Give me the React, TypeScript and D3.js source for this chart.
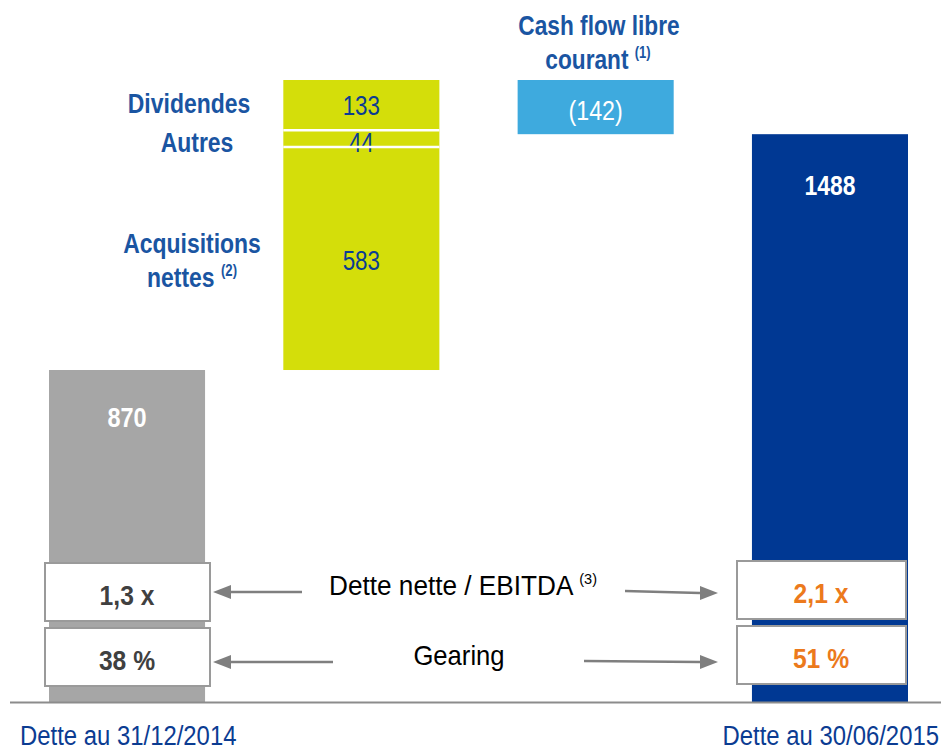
import * as d3 from 'd3';
import * as React from 'react';

const categories = ['Dette au 31/12/2014', 'Flux', 'Cash flow libre courant', 'Dette au 30/06/2015'];
const startDebt = 870;
const flowLabels = ['Acquisitions nettes', 'Autres', 'Dividendes'];
const flowValues = [583, 44, 133];
const cashFlow = -142;
const endDebt = 1488;
const ratioLabels = ['Dette nette / EBITDA', 'Gearing'];
const ratiosStart = ['1,3 x', '38 %'];
const ratiosEnd = ['2,1 x', '51 %'];

const W = 941;
const H = 749;
const FONT = '"Liberation Sans", Arial, sans-serif';
const LABEL_BLUE = '#1a55a2';
const DARK_BLUE = '#0b3c92';

// condensed text (the source uses a narrow face)
function T(props: any) {
  const { x, y, sx = 0.82, children, ...rest } = props;
  return (
    <text transform={`translate(${x},${y}) scale(${sx},1)`} {...rest}>
      {children}
    </text>
  );
}

export default function App() {
  const total = startDebt + d3.sum(flowValues);
  const y = d3.scaleLinear().domain([0, total]).range([702, 80]);
  const x = d3.scaleBand<string>().domain(categories).range([49, 908]).paddingInner(0.334).paddingOuter(0);
  const bw = x.bandwidth();

  // stacked flow segments
  const cum = d3.cumsum(flowValues);
  const segs = flowValues.map((v, i) => ({
    label: flowLabels[i],
    v,
    y0: startDebt + (i === 0 ? 0 : cum[i - 1]),
    y1: startDebt + cum[i],
  }));

  const xa = x(categories[0])!;
  const xf = x(categories[1])!;
  const xc = x(categories[2])!;
  const xe = x(categories[3])!;

  const boxRowsY = [563, 628];
  const boxH = 58;
  const arrowY = [592, 662];

  const arrow = (x1: number, y1: number, x2: number, y2: number, key: string) => {
    const dir = Math.sign(x2 - x1);
    const hx = x2 - dir * 18;
    return (
      <g key={key}>
        <line x1={x1} y1={y1} x2={hx} y2={y2} stroke="#7f7f7f" strokeWidth={2.5} />
        <path d={`M${x2},${y2} L${hx},${y2 - 7} L${hx},${y2 + 7} Z`} fill="#7f7f7f" />
      </g>
    );
  };

  return (
    <svg width={W} height={H} style={{ position: 'absolute', left: 0, top: 0, fontFamily: FONT }}>
      <rect width={W} height={H} fill="#fff" />

      {/* start bar */}
      <rect x={xa} y={y(startDebt)} width={bw} height={y(0) - y(startDebt)} fill="#a6a6a6" />
      <T x={xa + bw / 2} y={y(startDebt) + 57} sx={0.87} textAnchor="middle" fill="#fff" fontWeight="bold" fontSize={27}>
        {startDebt}
      </T>

      {/* flows */}
      {segs.map(s => (
        <rect key={s.label} x={xf} y={y(s.y1)} width={bw} height={y(s.y0) - y(s.y1)} fill="#d4de0a" />
      ))}
      <T x={xf + bw / 2} y={270} sx={0.8} textAnchor="middle" fill={DARK_BLUE} fontSize={28}>{flowValues[0]}</T>
      <T x={xf + bw / 2} y={152} sx={0.8} textAnchor="middle" fill={DARK_BLUE} fontSize={28}>{flowValues[1]}</T>
      <T x={xf + bw / 2} y={115} sx={0.8} textAnchor="middle" fill={DARK_BLUE} fontSize={28}>{flowValues[2]}</T>
      {segs.slice(0, 2).map(s => (
        <line key={'sep' + s.label} x1={xf} x2={xf + bw} y1={y(s.y1) - 0.5} y2={y(s.y1) - 0.5} stroke="#fff" strokeWidth={2.5} />
      ))}

      {/* flow labels */}
      <g fill={LABEL_BLUE} fontWeight="bold" fontSize={28} textAnchor="middle">
        <T x={189} y={113}>Dividendes</T>
        <T x={197} y={152}>Autres</T>
        <T x={192} y={253}>Acquisitions</T>
        <T x={192} y={287}>
          nettes <tspan fontSize={16} dy={-11}>(2)</tspan>
        </T>
      </g>

      {/* cash flow */}
      <rect x={xc} y={y(total)} width={bw} height={y(total + cashFlow) - y(total)} fill="#3eaade" />
      <T x={xc + bw / 2} y={120} sx={0.83} textAnchor="middle" fill="#fff" fontSize={28}>({Math.abs(cashFlow)})</T>
      <g fill={LABEL_BLUE} fontWeight="bold" fontSize={28} textAnchor="middle">
        <T x={599} y={35} sx={0.81}>Cash flow libre</T>
        <T x={598} y={69} sx={0.81}>
          courant <tspan fontSize={16} dy={-11}>(1)</tspan>
        </T>
      </g>

      {/* end bar */}
      <rect x={xe} y={y(endDebt)} width={bw} height={y(0) - y(endDebt)} fill="#003893" />
      <T x={xe + bw / 2} y={y(endDebt) + 61} sx={0.85} textAnchor="middle" fill="#fff" fontWeight="bold" fontSize={27}>
        {endDebt}
      </T>

      {/* baseline */}
      <line x1={10} x2={W} y1={y(0) + 0.5} y2={y(0) + 0.5} stroke="#8c8c8c" strokeWidth={2} />

      {/* ratio boxes */}
      {ratiosStart.map((r, i) => (
        <g key={'s' + i}>
          <rect x={45} y={boxRowsY[i]} width={165} height={boxH} fill="#fff" stroke="#9a9a9a" strokeWidth={2} />
          <T x={127} y={boxRowsY[i] + 42} sx={0.88} textAnchor="middle" fill="#404040" fontWeight="bold" fontSize={28}>{r}</T>
        </g>
      ))}
      {ratiosEnd.map((r, i) => (
        <g key={'e' + i}>
          <rect x={737} y={boxRowsY[i] - 2} width={169} height={boxH} fill="#fff" stroke="#9a9a9a" strokeWidth={2} />
          <T x={821} y={boxRowsY[i] + 40} sx={0.88} textAnchor="middle" fill="#ec7a1c" fontWeight="bold" fontSize={28}>{r}</T>
        </g>
      ))}

      {/* arrows */}
      {arrow(302, arrowY[0], 213, arrowY[0], 'a1')}
      {arrow(333, arrowY[1], 213, arrowY[1], 'a2')}
      {arrow(625, 591, 718, 593, 'a3')}
      {arrow(584, 661, 718, 662, 'a4')}

      <g fill="#000" fontSize={27} textAnchor="middle">
        <T x={463} y={595} sx={0.97}>
          {ratioLabels[0]} <tspan fontSize={15} dy={-11}>(3)</tspan>
        </T>
        <T x={459} y={665} sx={0.95}>{ratioLabels[1]}</T>
      </g>

      {/* bottom labels */}
      <T x={20} y={745} sx={0.885} fill={DARK_BLUE} fontSize={27}>{categories[0]}</T>
      <T x={939} y={745} sx={0.885} textAnchor="end" fill={DARK_BLUE} fontSize={27}>{categories[3]}</T>
    </svg>
  );
}
